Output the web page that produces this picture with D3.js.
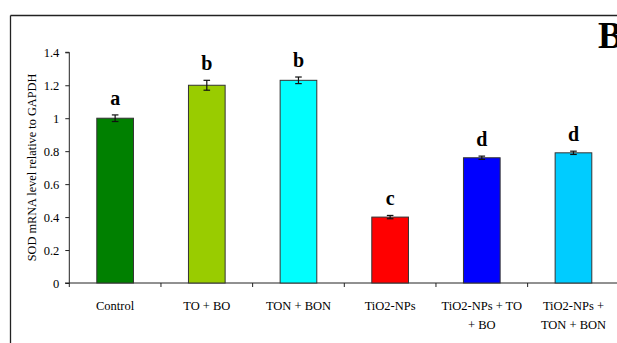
<!DOCTYPE html>
<html>
<head>
<meta charset="utf-8">
<script src="https://cdn.jsdelivr.net/npm/d3@7"></script>
<style>
  html, body { margin: 0; padding: 0; background: #fff; }
  svg { display: block; }
</style>
</head>
<body>
<script>
// ---- data ----
const categories = ["Control", "TO + BO", "TON + BON", "TiO2-NPs", "TiO2-NPs + TO + BO", "TiO2-NPs + TON + BON"];
const labelLines = [["Control"], ["TO + BO"], ["TON + BON"], ["TiO2-NPs"], ["TiO2-NPs + TO", "+ BO"], ["TiO2-NPs +", "TON + BON"]];
const values = [1.0, 1.2, 1.23, 0.40, 0.76, 0.79];
const errors = [0.02, 0.03, 0.02, 0.01, 0.01, 0.01];
const letters = ["a", "b", "b", "c", "d", "d"];
const colors = ["#008000", "#99CC00", "#00FFFF", "#FF0000", "#0000FF", "#00CCFF"];
const yTicks = [0, 0.2, 0.4, 0.6, 0.8, 1, 1.2, 1.4];
const yTitle = "SOD mRNA level relative to GAPDH";
const panelLabel = "B";

const FONT = '"Liberation Serif", "Times New Roman", "DejaVu Serif", serif';
const W = 617, H = 343;
const svg = d3.select("body").append("svg").attr("width", W).attr("height", H)
  .attr("font-family", FONT);

// frame
svg.append("line").attr("x1", 10.5).attr("x2", W + 5).attr("y1", 15.5).attr("y2", 15.5)
  .attr("stroke", "#222").attr("stroke-width", 1.3);
svg.append("line").attr("x1", 10.5).attr("x2", 10.5).attr("y1", 15.5).attr("y2", H + 5)
  .attr("stroke", "#222").attr("stroke-width", 1.3);

const x = d3.scaleBand().domain(categories).range([69.3, 619.3]).padding(0);
const y = d3.scaleLinear().domain([0, 1.4]).range([283, 52.3]);
const barW = x.step() * 0.4;

// y axis
const yAxis = svg.append("g").attr("transform", "translate(69.3,0)")
  .call(d3.axisLeft(y).tickValues(yTicks).tickSize(4).tickPadding(6).tickFormat(d => d3.format("")(d)));
yAxis.attr("font-family", FONT).attr("font-size", 12.5);
yAxis.select(".domain").attr("stroke", "#222");
yAxis.selectAll(".tick line").attr("stroke", "#222");
yAxis.selectAll("text").attr("fill", "#000").style("font-family", FONT).style("font-size", "12.5px");
yAxis.select(".domain").attr("d", `M-4,${y(1.4)}H0V${y(0)}`);

// x axis line + ticks at band boundaries
const xg = svg.append("g");
xg.append("line").attr("x1", 65).attr("x2", W + 5).attr("y1", y(0)).attr("y2", y(0)).attr("stroke", "#222");
xg.selectAll("line.tk").data(categories).enter().append("line").attr("class", "tk")
  .attr("x1", d => x(d)).attr("x2", d => x(d)).attr("y1", y(0)).attr("y2", y(0) + 4).attr("stroke", "#222");

// bars
svg.selectAll("rect.bar").data(categories).enter().append("rect").attr("class", "bar")
  .attr("x", d => x(d) + (x.step() - barW) / 2)
  .attr("width", barW)
  .attr("y", (d, i) => y(values[i]))
  .attr("height", (d, i) => y(0) - y(values[i]))
  .attr("fill", (d, i) => colors[i])
  .attr("stroke", "#333").attr("stroke-width", 1);

// error bars + letters
const eg = svg.append("g");
categories.forEach((c, i) => {
  const cx = x(c) + x.step() / 2;
  const y1 = y(values[i] + errors[i]), y2 = y(values[i] - errors[i]);
  eg.append("line").attr("x1", cx).attr("x2", cx).attr("y1", y1).attr("y2", y2).attr("stroke", "#111").attr("stroke-width", 1.2);
  eg.append("line").attr("x1", cx - 3.3).attr("x2", cx + 3.3).attr("y1", y1).attr("y2", y1).attr("stroke", "#111").attr("stroke-width", 1.2);
  eg.append("line").attr("x1", cx - 3.3).attr("x2", cx + 3.3).attr("y1", y2).attr("y2", y2).attr("stroke", "#111").attr("stroke-width", 1.2);
  svg.append("text").attr("x", cx).attr("y", y1 - 10).attr("text-anchor", "middle")
    .style("font-family", FONT).style("font-size", "20px").style("font-weight", "bold").text(letters[i]);
});

// x labels
categories.forEach((c, i) => {
  const cx = x(c) + x.step() / 2;
  const t = svg.append("text").attr("text-anchor", "middle")
    .style("font-family", FONT).style("font-size", "12.5px");
  labelLines[i].forEach((ln, j) => {
    t.append("tspan").attr("x", cx).attr("y", 310 + j * 19).text(ln);
  });
});

// y title
svg.append("text").attr("transform", `translate(36,167.5) rotate(-90)`)
  .attr("text-anchor", "middle").style("font-family", FONT).style("font-size", "12.3px").text(yTitle);

// panel label
svg.append("text").attr("x", 598).attr("y", 48).style("font-family", FONT)
  .style("font-size", "37px").style("font-weight", "bold").text(panelLabel);
</script>
</body>
</html>
